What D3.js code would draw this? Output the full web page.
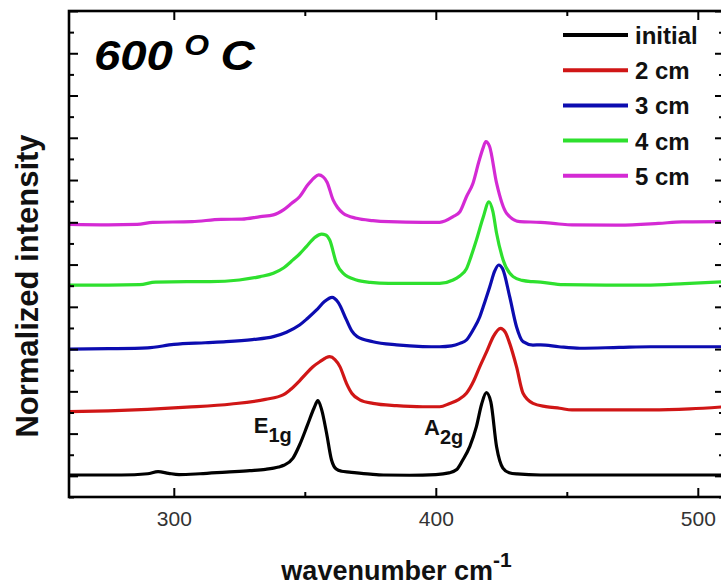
<!DOCTYPE html>
<html>
<head>
<meta charset="utf-8">
<script src="https://cdn.jsdelivr.net/npm/d3@7"></script>
<style>
  html, body { margin: 0; padding: 0; background: #fff; }
  svg { display: block; font-family: "Liberation Sans", Arial, sans-serif; }
</style>
</head>
<body>
<svg id="chart" width="721" height="587"></svg>
<script>
// Raman spectra, stacked with a vertical offset per sample
const seriesNames = ["initial", "2 cm", "3 cm", "4 cm", "5 cm"];
const seriesColors = ["#000000", "#d01616", "#0c0cb0", "#2ee02e", "#d42ad4"];

// [wavenumber (cm-1), normalized intensity + offset]
const initialSpectrum = [
  [260,0.04],[280,0.04],[290,0.1],[294,0.2],[298,0.12],[302,0.06],[310,0.1],[320,0.18],
  [329,0.25],[335,0.31],[340,0.42],[342,0.5],[345.5,0.84],[348,1.46],[351,2.4],[353.5,3.2],
  [355,3.56],[356.5,3.1],[358.3,2.03],[360.2,0.75],[362,0.32],[364,0.22],[367,0.18],[375,0.08],
  [380,0.04],[390,0.03],[400,0.06],[405,0.14],[408,0.3],[410.3,0.75],[413,1.4],[415.5,2.33],
  [417.5,3.4],[419.3,3.94],[421,3.5],[423.2,1.38],[425.6,0.37],[428,0.15],[431,0.09],[440,0.04],
  [460,0.04],[480,0.04],[510,0.04]
];
const spectrum2cm = [
  [260,3.04],[275,3.08],[290,3.15],[305,3.25],[322,3.4],[335,3.62],[341.7,3.83],[344.3,4.06],
  [348,4.5],[350.6,4.85],[353,5.15],[355.7,5.4],[359.5,5.64],[361.5,5.5],[363.4,5.17],[365.9,4.38],
  [368,3.9],[371,3.6],[376,3.43],[385,3.32],[395,3.27],[401.5,3.27],[405.3,3.43],[408.5,3.6],
  [411.7,3.91],[414.5,4.5],[416.8,5.17],[419.5,5.9],[422,6.6],[424.7,6.98],[426.5,6.8],[428.2,6.27],
  [430.8,5.17],[433.3,3.91],[437.1,3.43],[442,3.28],[447.3,3.2],[452,3.12],[467,3.12],[482,3.12],
  [497,3.17],[510,3.27]
];
const spectrum3cm = [
  [260,6.0],[275,6.02],[290,6.06],[300,6.22],[312,6.3],[320,6.35],[330,6.45],[338,6.59],
  [343,6.8],[348,7.14],[351,7.45],[354.5,7.85],[357.5,8.25],[360.4,8.45],[362.8,8.2],
  [365.9,7.38],[368,6.85],[370,6.59],[376,6.35],[385,6.2],[395,6.12],[401.5,6.11],[406,6.15],
  [409.2,6.27],[411.7,6.43],[414.2,6.9],[416.8,7.53],[418.1,8.0],[420.6,8.95],[422.5,9.7],[424,9.98],
  [425.5,9.8],[428.2,8.48],[430.8,7.06],[433.3,6.35],[437.1,6.19],[440,6.2],[447,6.11],[455,6.04],
  [470,6.08],[482,6.11],[495,6.11],[510,6.11]
];
const spectrum4cm = [
  [260,9.03],[275,9.03],[287,9.05],[293,9.17],[305,9.19],[314,9.19],[325,9.27],[333,9.43],
  [338,9.59],[342,9.85],[345.5,10.22],[348,10.5],[350.6,10.85],[354,11.3],[356.4,11.44],[358,11.4],
  [359.5,11.16],[362.1,10.06],[364.6,9.59],[369.7,9.27],[375,9.16],[382,9.11],[395,9.11],[401.5,9.11],
  [406.6,9.27],[409,9.45],[411.7,9.8],[413.5,10.4],[415.5,11.16],[418,12.2],[420.3,12.97],[421.8,12.5],
  [423.2,11.48],[425.7,10.22],[429.5,9.43],[433,9.25],[437,9.19],[440,9.17],[448.6,9.05],[465,9.03],
  [480,9.03],[495,9.1],[510,9.19]
];
const spectrum5cm = [
  [260,11.9],[275,11.88],[286,11.9],[292,12.0],[307,12.03],[318,12.14],[326,12.15],[333,12.27],
  [338,12.35],[342,12.6],[345,12.9],[348,13.21],[351,13.75],[353.5,14.1],[355.3,14.24],[357,14.15],
  [358.5,13.9],[360.8,13.06],[362.5,12.7],[364.6,12.43],[369.7,12.19],[376,12.08],[382,12.03],[395,12.0],
  [401.5,12.0],[406.6,12.27],[409.2,12.5],[411.7,13.21],[414.2,13.85],[416.5,14.9],[418,15.5],[419.1,15.82],
  [420.5,15.6],[423.2,13.85],[427,12.43],[432.1,12.03],[440,12.0],[447,11.92],[452,11.88],[470,11.87],
  [485,11.95],[494,12.02],[510,12.03]
];
const spectra = [initialSpectrum, spectrum2cm, spectrum3cm, spectrum4cm, spectrum5cm];

// Axis ranges and ticks
const xDomain = [260, 510];
const yDomain = [-1, 22];
const xMajorTicks = [300, 400, 500];
const xMinorTicks = [350, 450];
const yMajorTicks = d3.range(0, 23, 2);
const yMinorTicks = d3.range(-1, 22, 2);

// Peak labels: [main, subscript, wavenumber, intensity]
const peakLabels = [["E", "1g", 330.5, 2.03], ["A", "2g", 395.5, 1.93]];

const svg = d3.select("#chart");
const plot = { left: 69, right: 724, top: 11, bottom: 497 };

const x = d3.scaleLinear().domain(xDomain).range([plot.left, plot.right]);
const y = d3.scaleLinear().domain(yDomain).range([plot.bottom, plot.top]);

svg.append("defs").append("clipPath").attr("id", "plotClip")
  .append("rect")
  .attr("x", plot.left).attr("y", plot.top)
  .attr("width", plot.right - plot.left).attr("height", plot.bottom - plot.top);

// Spectra
const line = d3.line().x(d => x(d[0])).y(d => y(d[1])).curve(d3.curveMonotoneX);
svg.append("g").attr("clip-path", "url(#plotClip)")
  .selectAll("path").data(spectra).join("path")
  .attr("d", line)
  .attr("fill", "none")
  .attr("stroke", (d, i) => seriesColors[i])
  .attr("stroke-width", 3.2)
  .attr("stroke-linejoin", "round");

// Axes: ticks point inward on all four sides
function styleAxis(g) {
  g.select(".domain").remove();
  g.selectAll(".tick line").attr("stroke", "#000").attr("stroke-width", 2);
}
svg.append("g").attr("transform", `translate(0,${plot.bottom})`)
  .call(d3.axisBottom(x).tickValues(xMajorTicks).tickSize(-9).tickPadding(14))
  .call(styleAxis)
  .call(g => g.selectAll("text").attr("font-size", 21).attr("fill", "#333")
    .attr("font-family", "Liberation Sans, Arial, sans-serif"));
svg.append("g").attr("transform", `translate(0,${plot.bottom})`)
  .call(d3.axisBottom(x).tickValues(xMinorTicks).tickSize(-5).tickFormat(""))
  .call(styleAxis);
svg.append("g").attr("transform", `translate(0,${plot.top})`)
  .call(d3.axisTop(x).tickValues(xMajorTicks).tickSize(-9).tickFormat(""))
  .call(styleAxis);
svg.append("g").attr("transform", `translate(0,${plot.top})`)
  .call(d3.axisTop(x).tickValues(xMinorTicks).tickSize(-5).tickFormat(""))
  .call(styleAxis);
svg.append("g").attr("transform", `translate(${plot.left},0)`)
  .call(d3.axisLeft(y).tickValues(yMajorTicks).tickSize(-9).tickFormat(""))
  .call(styleAxis);
svg.append("g").attr("transform", `translate(${plot.left},0)`)
  .call(d3.axisLeft(y).tickValues(yMinorTicks).tickSize(-5).tickFormat(""))
  .call(styleAxis);
svg.append("g").attr("transform", `translate(${plot.right},0)`)
  .call(d3.axisRight(y).tickValues(yMajorTicks).tickSize(-9).tickFormat(""))
  .call(styleAxis);
svg.append("g").attr("transform", `translate(${plot.right},0)`)
  .call(d3.axisRight(y).tickValues(yMinorTicks).tickSize(-5).tickFormat(""))
  .call(styleAxis);

// Frame
svg.append("rect")
  .attr("x", plot.left).attr("y", plot.top)
  .attr("width", plot.right - plot.left).attr("height", plot.bottom - plot.top)
  .attr("fill", "none").attr("stroke", "#000").attr("stroke-width", 2.6);

// Axis titles
const xTitle = svg.append("text")
  .attr("x", (plot.left + plot.right) / 2).attr("y", 580)
  .attr("text-anchor", "middle").attr("font-size", 27).attr("font-weight", "bold").attr("fill", "#111");
xTitle.append("tspan").text("wavenumber cm");
xTitle.append("tspan").attr("dy", -13).attr("font-size", 21).text("-1");

svg.append("text")
  .attr("transform", "translate(38,286) rotate(-90)")
  .attr("text-anchor", "middle").attr("font-size", 31).attr("font-weight", "bold").attr("fill", "#111")
  .text("Normalized intensity");

// Temperature tag, slightly widened
const tag = svg.append("text")
  .attr("transform", "translate(94,0) scale(1.1,1)")
  .attr("font-style", "italic").attr("font-weight", "bold").attr("fill", "#000");
tag.append("tspan").attr("x", 0).attr("y", 70).attr("font-size", 43).text("600");
tag.append("tspan").attr("x", 82).attr("y", 55).attr("font-size", 29).text("O");
tag.append("tspan").attr("x", 115).attr("y", 70).attr("font-size", 43).text("C");

// Peak assignments
peakLabels.forEach(([main, sub, wn, v]) => {
  const t = svg.append("text")
    .attr("x", x(wn)).attr("y", y(v))
    .attr("font-weight", "bold").attr("font-size", 22).attr("fill", "#111");
  t.append("tspan").text(main);
  t.append("tspan").attr("dy", 9).attr("font-size", 20).text(sub);
});

// Legend
const legend = svg.append("g");
seriesNames.forEach((name, i) => {
  const ly = 35 + i * 35.2;
  legend.append("line")
    .attr("x1", 563).attr("x2", 628).attr("y1", ly).attr("y2", ly)
    .attr("stroke", seriesColors[i]).attr("stroke-width", 4);
  legend.append("text")
    .attr("x", 635).attr("y", ly + 9)
    .attr("font-size", 24).attr("font-weight", "bold").attr("fill", "#111")
    .text(name);
});
</script>
</body>
</html>
